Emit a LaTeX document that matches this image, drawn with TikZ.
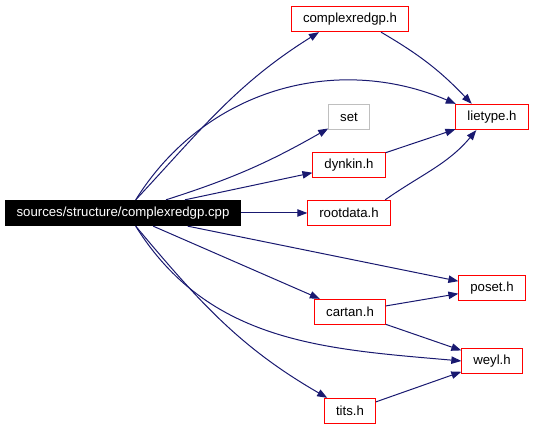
\documentclass[tikz,border=0pt]{standalone}
\usepackage{fontspec}
\setmainfont{Liberation Sans}
\usetikzlibrary{positioning,arrows.meta}
\definecolor{DGNavy}{HTML}{191970}
\definecolor{DGGray}{HTML}{BFBFBF}

\begin{document}
\begin{tikzpicture}[
  x=0.75pt, y=0.75pt,
  file/.style={draw=red, fill=white, line width=0.75pt, inner xsep=8.6pt, inner ysep=0pt, minimum height=19pt, font=\fontsize{9.9}{12}\selectfont},
  root/.style={file, draw=black, fill=black, text=white},
  extern/.style={file, draw=DGGray},
  arrow/.style={-{Triangle[length=7.5pt, width=5.6pt]}, line width=0.75pt, draw=DGNavy}
]
\useasboundingbox (0,0) rectangle (533,427);
\node[root] (main) at (123,214) {sources/structure/complexredgp.cpp};
\node[file] (complexredgp) at (350,408) {complexredgp.h};
\node[file] (lietype) at (492,310) {lietype.h};
\node[extern] (set) at (349,310) {set};
\node[file] (dynkin) at (349,262) {dynkin.h};
\node[file] (rootdata) at (349,214) {rootdata.h};
\node[file] (poset) at (492,139) {poset.h};
\node[file] (cartan) at (350,115) {cartan.h};
\node[file] (weyl) at (492,66) {weyl.h};
\node[file] (tits) at (350,16) {tits.h};
% from the source file
\draw[arrow] (main.46) to[out=47, in=212] (complexredgp.203);
\draw[arrow] (main.46) to[out=58, in=157] (lietype.160);
\draw[arrow] (main) to[bend right=6] (set);
\draw[arrow] (main) -- (dynkin);
\draw[arrow] (main) -- (rootdata);
\draw[arrow] (main) -- (poset);
\draw[arrow] (main) -- (cartan);
\draw[arrow] (main.-46) to[out=-58, in=175] (weyl.180);
\draw[arrow] (main.-46) to[out=-50, in=150] (tits.150);
% between headers
\draw[arrow] (complexredgp.-23) to[bend left=8] (lietype.147);
\draw[arrow] (dynkin) -- (lietype);
\draw[arrow] (rootdata.20) to[out=35, in=-130] (lietype.-140);
\draw[arrow] (cartan) -- (poset);
\draw[arrow] (cartan) -- (weyl);
\draw[arrow] (tits) -- (weyl);
\end{tikzpicture}
\end{document}
